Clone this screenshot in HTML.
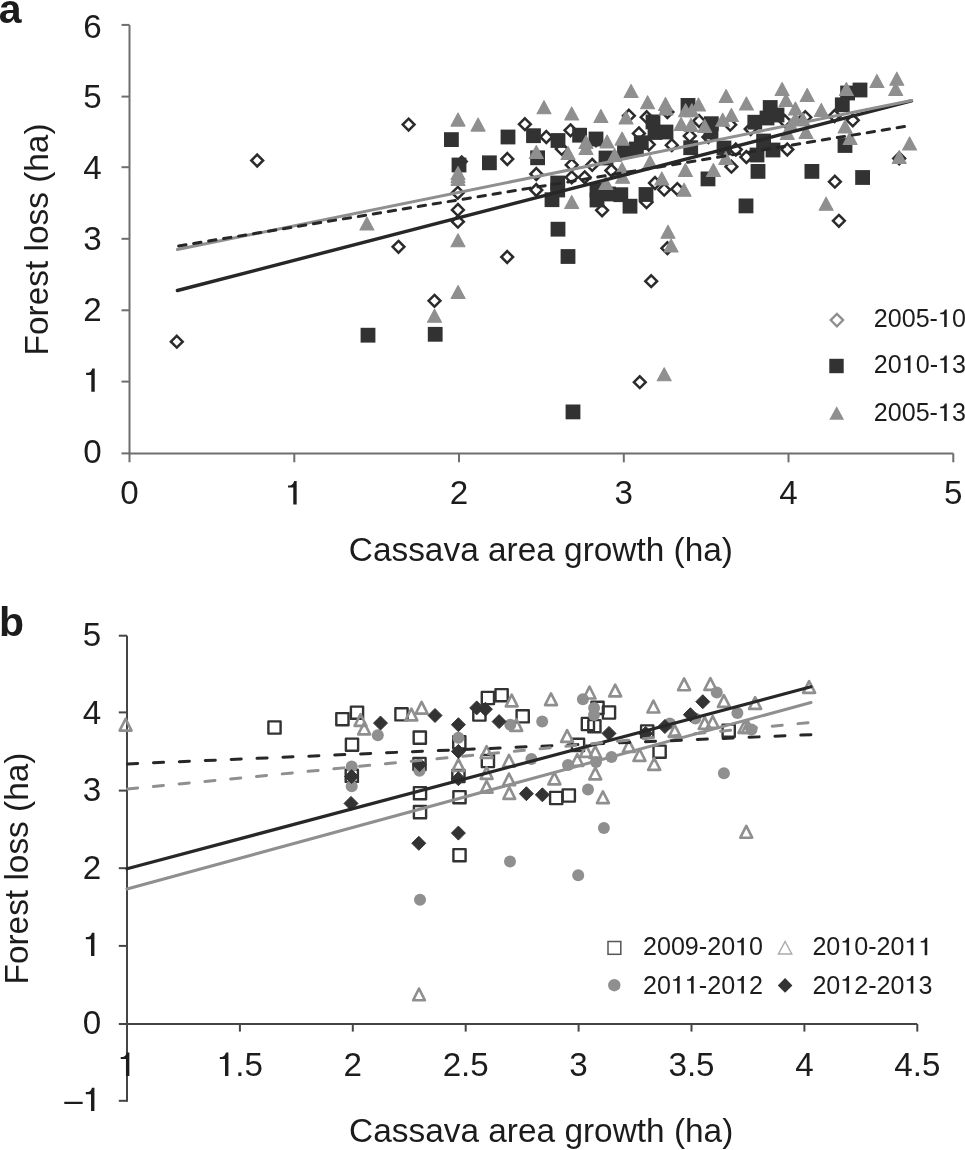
<!DOCTYPE html>
<html><head><meta charset="utf-8"><title>Figure</title>
<style>
html,body{margin:0;padding:0;background:#fff;}
body{width:965px;height:1150px;overflow:hidden;}
svg{display:block;filter:grayscale(1);}
text{font-family:"Liberation Sans", sans-serif;fill:#1e1c1d;}
.h1{fill-opacity:0;}
text{font-kerning:none;font-feature-settings:"kern" 0;}
</style></head><body>
<svg width="965" height="1150" viewBox="0 0 965 1150">
<rect width="965" height="1150" fill="#fff"/>
<text x="-1.3" y="22.8" font-size="41" font-weight="bold">a</text>
<g stroke="#6d6e72" stroke-width="2" fill="none"><path d="M129.5 24.9V453.4 H953.3"/><path d="M121.5 453.4H129.5"/><path d="M121.5 381.6H129.5"/><path d="M121.5 310.3H129.5"/><path d="M121.5 238.8H129.5"/><path d="M121.5 167.2H129.5"/><path d="M121.5 96.6H129.5"/><path d="M121.5 24.9H129.5"/><path d="M129.5 453.4V462.3"/><path d="M294.3 453.4V462.3"/><path d="M459 453.4V462.3"/><path d="M623.8 453.4V462.3"/><path d="M788.5 453.4V462.3"/><path d="M953.3 453.4V462.3"/></g>
<g font-size="33.2" text-anchor="end"><text x="101.6" y="462.6">0</text><text id="o1" x="101.6" y="391.8"><tspan class="h1">1</tspan></text><text x="101.6" y="320.9">2</text><text x="101.6" y="250.1">3</text><text x="101.6" y="179.3">4</text><text x="101.6" y="108.4">5</text><text x="101.6" y="37.6">6</text></g>
<g font-size="33.2" text-anchor="middle"><text x="129.5" y="504.4">0</text><text id="o2" x="294.3" y="504.4"><tspan class="h1">1</tspan></text><text x="459" y="504.4">2</text><text x="623.8" y="504.4">3</text><text x="788.5" y="504.4">4</text><text x="953.3" y="504.4">5</text></g>
<text x="348.8" y="561.3" font-size="33.4">Cassava area growth (ha)</text>
<text transform="translate(48 355.4) rotate(-90)" font-size="33.4">Forest loss (ha)</text>
<g fill="none" stroke="#2b2b2b" stroke-width="2.5"><path d="M176.8 335.8L182.7 341.7L176.8 347.6L170.9 341.7Z"/><path d="M257.2 154.6L263.1 160.5L257.2 166.4L251.3 160.5Z"/><path d="M398.5 240.9L404.4 246.8L398.5 252.7L392.6 246.8Z"/><path d="M408.6 118.7L414.5 124.6L408.6 130.5L402.7 124.6Z"/><path d="M434.5 294.9L440.4 300.8L434.5 306.7L428.6 300.8Z"/><path d="M457.8 186.9L463.7 192.8L457.8 198.7L451.9 192.8Z"/><path d="M457.9 204L463.8 209.9L457.9 215.8L452 209.9Z"/><path d="M457.9 215.8L463.8 221.7L457.9 227.6L452 221.7Z"/><path d="M507.3 153.1L513.2 159L507.3 164.9L501.4 159Z"/><path d="M507.2 251.1L513.1 257L507.2 262.9L501.3 257Z"/><path d="M524.9 118.3L530.8 124.2L524.9 130.1L519 124.2Z"/><path d="M546.3 131.1L552.2 137L546.3 142.9L540.4 137Z"/><path d="M536.3 168.1L542.2 174L536.3 179.9L530.4 174Z"/><path d="M536.3 184.1L542.2 190L536.3 195.9L530.4 190Z"/><path d="M570.5 124.4L576.4 130.3L570.5 136.2L564.6 130.3Z"/><path d="M561.8 143L567.7 148.9L561.8 154.8L555.9 148.9Z"/><path d="M571.7 159L577.6 164.9L571.7 170.8L565.8 164.9Z"/><path d="M592.2 159L598.1 164.9L592.2 170.8L586.3 164.9Z"/><path d="M571.7 171.4L577.6 177.3L571.7 183.2L565.8 177.3Z"/><path d="M584.7 171.4L590.6 177.3L584.7 183.2L578.8 177.3Z"/><path d="M611.4 164.6L617.3 170.5L611.4 176.4L605.5 170.5Z"/><path d="M602.1 204.4L608 210.3L602.1 216.2L596.2 210.3Z"/><path d="M628.9 109.8L634.8 115.7L628.9 121.6L623 115.7Z"/><path d="M646.7 111.3L652.6 117.2L646.7 123.1L640.8 117.2Z"/><path d="M638.9 127.5L644.8 133.4L638.9 139.3L633 133.4Z"/><path d="M648.8 138.7L654.7 144.6L648.8 150.5L642.9 144.6Z"/><path d="M646.5 196.3L652.4 202.2L646.5 208.1L640.6 202.2Z"/><path d="M655 177.1L660.9 183L655 188.9L649.1 183Z"/><path d="M664.2 183.8L670.1 189.7L664.2 195.6L658.3 189.7Z"/><path d="M677.3 183.2L683.2 189.1L677.3 195L671.4 189.1Z"/><path d="M667.4 242.3L673.3 248.2L667.4 254.1L661.5 248.2Z"/><path d="M651.2 275.3L657.1 281.2L651.2 287.1L645.3 281.2Z"/><path d="M639.8 376.3L645.7 382.2L639.8 388.1L633.9 382.2Z"/><path d="M667.4 106.1L673.3 112L667.4 117.9L661.5 112Z"/><path d="M699.1 115.1L705 121L699.1 126.9L693.2 121Z"/><path d="M730.2 118.8L736.1 124.7L730.2 130.6L724.3 124.7Z"/><path d="M750.7 123.1L756.6 129L750.7 134.9L744.8 129Z"/><path d="M689.8 130L695.7 135.9L689.8 141.8L683.9 135.9Z"/><path d="M671.8 139.3L677.7 145.2L671.8 151.1L665.9 145.2Z"/><path d="M708.4 131.2L714.3 137.1L708.4 143L702.5 137.1Z"/><path d="M735.8 143.6L741.7 149.5L735.8 155.4L729.9 149.5Z"/><path d="M746.4 151.1L752.3 157L746.4 162.9L740.5 157Z"/><path d="M731.4 160.8L737.3 166.7L731.4 172.6L725.5 166.7Z"/><path d="M805.3 111.3L811.2 117.2L805.3 123.1L799.4 117.2Z"/><path d="M784.8 115.1L790.7 121L784.8 126.9L778.9 121Z"/><path d="M834.6 110.1L840.5 116L834.6 121.9L828.7 116Z"/><path d="M852.8 114.4L858.7 120.3L852.8 126.2L846.9 120.3Z"/><path d="M787.3 143.6L793.2 149.5L787.3 155.4L781.4 149.5Z"/><path d="M834.9 175.8L840.8 181.7L834.9 187.6L829 181.7Z"/><path d="M838.9 214.9L844.8 220.8L838.9 226.7L833 220.8Z"/><path d="M899.2 152.5L905.1 158.4L899.2 164.3L893.3 158.4Z"/></g>
<path d="M461.7 154.7L468.5 161.5L461.7 168.3L454.9 161.5Z M596 133.5L603.2 140.7L596 147.9L588.8 140.7Z" fill="#333133"/><g fill="#333133"><rect x="360.6" y="327.8" width="14.8" height="14.8"/><rect x="427.8" y="326.9" width="14.8" height="14.8"/><rect x="444" y="132.2" width="14.8" height="14.8"/><rect x="451.6" y="157.6" width="14.8" height="14.8"/><rect x="482" y="155.4" width="14.8" height="14.8"/><rect x="500.6" y="129.6" width="14.8" height="14.8"/><rect x="526.1" y="128.3" width="14.8" height="14.8"/><rect x="530.2" y="150.4" width="14.8" height="14.8"/><rect x="550.6" y="133.1" width="14.8" height="14.8"/><rect x="572.2" y="127.8" width="14.8" height="14.8"/><rect x="588.6" y="131.6" width="14.8" height="14.8"/><rect x="633.9" y="135.3" width="14.8" height="14.8"/><rect x="617.1" y="144" width="14.8" height="14.8"/><rect x="629" y="141.6" width="14.8" height="14.8"/><rect x="598.6" y="150.6" width="14.8" height="14.8"/><rect x="550.6" y="221.8" width="14.8" height="14.8"/><rect x="560.6" y="249.1" width="14.8" height="14.8"/><rect x="544.6" y="192.3" width="14.8" height="14.8"/><rect x="550.3" y="175.6" width="14.8" height="14.8"/><rect x="550.3" y="182.6" width="14.8" height="14.8"/><rect x="589.6" y="182.6" width="14.8" height="14.8"/><rect x="589.6" y="192.6" width="14.8" height="14.8"/><rect x="613.4" y="187.3" width="14.8" height="14.8"/><rect x="622.6" y="198.8" width="14.8" height="14.8"/><rect x="638.6" y="187.1" width="14.8" height="14.8"/><rect x="645.6" y="114.5" width="14.8" height="14.8"/><rect x="658.6" y="124.6" width="14.8" height="14.8"/><rect x="680.6" y="98" width="14.8" height="14.8"/><rect x="703.9" y="116.3" width="14.8" height="14.8"/><rect x="703.6" y="124.6" width="14.8" height="14.8"/><rect x="747.4" y="114.8" width="14.8" height="14.8"/><rect x="762.8" y="100.1" width="14.8" height="14.8"/><rect x="769.6" y="107.6" width="14.8" height="14.8"/><rect x="683.3" y="140.3" width="14.8" height="14.8"/><rect x="716.6" y="140.6" width="14.8" height="14.8"/><rect x="756.2" y="133.6" width="14.8" height="14.8"/><rect x="765.6" y="142.6" width="14.8" height="14.8"/><rect x="749.6" y="147.6" width="14.8" height="14.8"/><rect x="750.6" y="164" width="14.8" height="14.8"/><rect x="852.6" y="82.6" width="14.8" height="14.8"/><rect x="840.2" y="85.6" width="14.8" height="14.8"/><rect x="834.9" y="97.4" width="14.8" height="14.8"/><rect x="837.6" y="138.1" width="14.8" height="14.8"/><rect x="855.2" y="170.1" width="14.8" height="14.8"/><rect x="804.5" y="164" width="14.8" height="14.8"/><rect x="700.6" y="171.5" width="14.8" height="14.8"/><rect x="738.6" y="198.5" width="14.8" height="14.8"/><rect x="565.6" y="404.5" width="14.8" height="14.8"/><rect x="647.6" y="125.1" width="14.8" height="14.8"/><rect x="759.6" y="110.6" width="14.8" height="14.8"/><rect x="601.1" y="186.6" width="14.8" height="14.8"/></g>
<g fill="#8e8f93" stroke="#8e8f93" stroke-width="1.1" stroke-linejoin="round"><path d="M366.9 217L373.9 230L359.9 230Z"/><path d="M434.5 309.3L441.5 322.3L427.5 322.3Z"/><path d="M458.1 285.5L465.1 298.5L451.1 298.5Z"/><path d="M458 233.8L465 246.8L451 246.8Z"/><path d="M458 113.1L465 126.1L451 126.1Z"/><path d="M478.1 118.1L485.1 131.1L471.1 131.1Z"/><path d="M458 166.5L465 179.5L451 179.5Z"/><path d="M458 169.5L465 182.5L451 182.5Z"/><path d="M458 172.5L465 185.5L451 185.5Z"/><path d="M536.3 145.5L543.3 158.5L529.3 158.5Z"/><path d="M544 100.7L551 113.7L537 113.7Z"/><path d="M571.7 107L578.7 120L564.7 120Z"/><path d="M600.9 109.5L607.9 122.5L593.9 122.5Z"/><path d="M626 111L633 124L619 124Z"/><path d="M631.1 84.5L638.1 97.5L624.1 97.5Z"/><path d="M647.6 95.8L654.6 108.8L640.6 108.8Z"/><path d="M665.5 97.5L672.5 110.5L658.5 110.5Z"/><path d="M666 102L673 115L659 115Z"/><path d="M586 135.5L593 148.5L579 148.5Z"/><path d="M586 141.5L593 154.5L579 154.5Z"/><path d="M607.1 135L614.1 148L600.1 148Z"/><path d="M622.1 132.1L629.1 145.1L615.1 145.1Z"/><path d="M614.6 148.5L621.6 161.5L607.6 161.5Z"/><path d="M568 146.5L575 159.5L561 159.5Z"/><path d="M622 162.5L629 175.5L615 175.5Z"/><path d="M605.9 176.5L612.9 189.5L598.9 189.5Z"/><path d="M622.6 170.2L629.6 183.2L615.6 183.2Z"/><path d="M571.7 195.5L578.7 208.5L564.7 208.5Z"/><path d="M650 155.5L657 168.5L643 168.5Z"/><path d="M685.4 163.5L692.4 176.5L678.4 176.5Z"/><path d="M725.8 151.5L732.8 164.5L718.8 164.5Z"/><path d="M713.4 163.5L720.4 176.5L706.4 176.5Z"/><path d="M661.8 172L668.8 185L654.8 185Z"/><path d="M684.1 183.2L691.1 196.2L677.1 196.2Z"/><path d="M668 225.2L675 238.2L661 238.2Z"/><path d="M671.1 238.9L678.1 251.9L664.1 251.9Z"/><path d="M664.2 367.8L671.2 380.8L657.2 380.8Z"/><path d="M726.1 89.5L733.1 102.5L719.1 102.5Z"/><path d="M746.4 97L753.4 110L739.4 110Z"/><path d="M698.5 98L705.5 111L691.5 111Z"/><path d="M685.6 103.8L692.6 116.8L678.6 116.8Z"/><path d="M691.8 103.8L698.8 116.8L684.8 116.8Z"/><path d="M681.1 117.5L688.1 130.5L674.1 130.5Z"/><path d="M691 118.5L698 131.5L684 131.5Z"/><path d="M704.7 119.5L711.7 132.5L697.7 132.5Z"/><path d="M722.7 113.2L729.7 126.2L715.7 126.2Z"/><path d="M731.4 108.5L738.4 121.5L724.4 121.5Z"/><path d="M782.1 82.5L789.1 95.5L775.1 95.5Z"/><path d="M786 93.5L793 106.5L779 106.5Z"/><path d="M807.2 88.5L814.2 101.5L800.2 101.5Z"/><path d="M846.4 82.5L853.4 95.5L839.4 95.5Z"/><path d="M795.4 102L802.4 115L788.4 115Z"/><path d="M795.4 112.5L802.4 125.5L788.4 125.5Z"/><path d="M791 118.5L798 131.5L784 131.5Z"/><path d="M806 125.5L813 138.5L799 138.5Z"/><path d="M787.3 126.5L794.3 139.5L780.3 139.5Z"/><path d="M803 113L810 126L796 126Z"/><path d="M821.3 103.5L828.3 116.5L814.3 116.5Z"/><path d="M845.1 120L852.1 133L838.1 133Z"/><path d="M850.1 131.5L857.1 144.5L843.1 144.5Z"/><path d="M876.9 74.5L883.9 87.5L869.9 87.5Z"/><path d="M896.8 72.2L903.8 85.2L889.8 85.2Z"/><path d="M895.7 82.5L902.7 95.5L888.7 95.5Z"/><path d="M909.6 136.9L916.6 149.9L902.6 149.9Z"/><path d="M899.2 150.5L906.2 163.5L892.2 163.5Z"/><path d="M826.1 197.2L833.1 210.2L819.1 210.2Z"/></g>
<g fill="none" stroke-width="3" stroke-linecap="round"><path d="M177.4 290.5L911.5 100.9" stroke="#272727" stroke-width="3.4"/><path d="M177.4 249.5L911.5 100.5" stroke="#8e8f93"/><path d="M178.68 245.96L904.42 126.54" stroke="#272727" stroke-width="3" stroke-linecap="round" stroke-dasharray="7.400 7.769"/></g>
<path d="M836.9 313.9L843.1 320.1L836.9 326.3L830.7 320.1Z" fill="none" stroke="#8e8f93" stroke-width="2.3"/><rect x="829.3" y="358.8" width="14.4" height="14.4" fill="#333133"/><path d="M836.7 406.2L844.1 419.8L829.3 419.8Z" fill="#8e8f93"/><g font-size="25.1"><text id="o3" x="873.8" y="327">2005-<tspan class="h1">1</tspan>0</text><text id="o4" x="873.8" y="373">20<tspan class="h1">1</tspan>0-<tspan class="h1">1</tspan>3</text><text id="o5" x="873.8" y="421">2005-<tspan class="h1">1</tspan>3</text></g>
<text x="-1.1" y="635.9" font-size="41" font-weight="bold">b</text>
<g stroke="#454547" stroke-width="2" fill="none"><path d="M127 635.7V1101.7"/><path d="M127 1024H917.2"/><path d="M118.8 1100.8H127"/><path d="M118.8 1024H127"/><path d="M118.8 945.9H127"/><path d="M118.8 868.2H127"/><path d="M118.8 790.6H127"/><path d="M118.8 712.4H127"/><path d="M118.8 635.7H127"/><path d="M127 1024V1031.6"/><path d="M239.9 1024V1031.6"/><path d="M352.8 1024V1031.6"/><path d="M465.7 1024V1031.6"/><path d="M578.6 1024V1031.6"/><path d="M691.5 1024V1031.6"/><path d="M804.4 1024V1031.6"/><path d="M917.3 1024V1031.6"/></g>
<g font-size="33.2" text-anchor="end"><text id="o6" x="101.3" y="1111.1">–<tspan class="h1">1</tspan></text><text x="101.3" y="1033.6">0</text><text id="o7" x="101.3" y="956.1"><tspan class="h1">1</tspan></text><text x="101.3" y="878.6">2</text><text x="101.3" y="801.2">3</text><text x="101.3" y="723.7">4</text><text x="101.3" y="646.2">5</text></g>
<g font-size="33.2" text-anchor="middle"><text id="o8" x="127" y="1075.9"><tspan class="h1">1</tspan></text><text id="o9" x="239.9" y="1075.9"><tspan class="h1">1</tspan>.5</text><text x="352.8" y="1075.9">2</text><text x="465.7" y="1075.9">2.5</text><text x="578.6" y="1075.9">3</text><text x="691.5" y="1075.9">3.5</text><text x="804.4" y="1075.9">4</text><text x="917.3" y="1075.9">4.5</text></g>
<text x="349.1" y="1142.3" font-size="33.4">Cassava area growth (ha)</text>
<text transform="translate(27.9 984.5) rotate(-90)" font-size="33.4">Forest loss (ha)</text>
<g fill="none" stroke="#333" stroke-width="2.4" stroke-linejoin="round"><rect x="268.4" y="721.4" width="12.2" height="12.2"/><rect x="336.3" y="713.1" width="12.2" height="12.2"/><rect x="350.9" y="706.6" width="12.2" height="12.2"/><rect x="345.9" y="738.6" width="12.2" height="12.2"/><rect x="395.4" y="708.2" width="12.2" height="12.2"/><rect x="413.7" y="731.5" width="12.2" height="12.2"/><rect x="413.4" y="757.9" width="12.2" height="12.2"/><rect x="345.7" y="769.7" width="12.2" height="12.2"/><rect x="413.9" y="787.1" width="12.2" height="12.2"/><rect x="413.9" y="806" width="12.2" height="12.2"/><rect x="453.4" y="791.1" width="12.2" height="12.2"/><rect x="453.4" y="849.1" width="12.2" height="12.2"/><rect x="481.8" y="691.9" width="12.2" height="12.2"/><rect x="495.5" y="689.1" width="12.2" height="12.2"/><rect x="473.3" y="708.4" width="12.2" height="12.2"/><rect x="516.6" y="710.2" width="12.2" height="12.2"/><rect x="453.2" y="736.2" width="12.2" height="12.2"/><rect x="452.3" y="769.9" width="12.2" height="12.2"/><rect x="481.8" y="754.9" width="12.2" height="12.2"/><rect x="550.1" y="791.9" width="12.2" height="12.2"/><rect x="562.7" y="789.4" width="12.2" height="12.2"/><rect x="591.4" y="701.8" width="12.2" height="12.2"/><rect x="602.9" y="706.4" width="12.2" height="12.2"/><rect x="581.8" y="717.9" width="12.2" height="12.2"/><rect x="588.3" y="720.1" width="12.2" height="12.2"/><rect x="571.9" y="738.8" width="12.2" height="12.2"/><rect x="641.1" y="725.4" width="12.2" height="12.2"/><rect x="653.5" y="745.6" width="12.2" height="12.2"/><rect x="722.6" y="724.6" width="12.2" height="12.2"/></g>
<g fill="none" stroke="#8e8f93" stroke-width="2.6" stroke-linejoin="round"><path d="M125.6 718.8L131.5 730.6L119.6 730.6Z"/><path d="M360.5 714.1L366.4 725.9L354.6 725.9Z"/><path d="M364.2 722.6L370.1 734.4L358.2 734.4Z"/><path d="M411.4 708.6L417.3 720.4L405.4 720.4Z"/><path d="M421.6 701.8L427.6 713.6L415.7 713.6Z"/><path d="M458.4 759.1L464.3 770.9L452.4 770.9Z"/><path d="M486.6 746.1L492.6 757.9L480.7 757.9Z"/><path d="M486.6 767.1L492.6 778.9L480.7 778.9Z"/><path d="M486.6 780.9L492.6 792.7L480.7 792.7Z"/><path d="M509 754.9L515 766.7L503.1 766.7Z"/><path d="M509 773.5L515 785.3L503.1 785.3Z"/><path d="M509.3 787.1L515.2 798.9L503.4 798.9Z"/><path d="M511.7 694.6L517.6 706.4L505.8 706.4Z"/><path d="M516.3 719.1L522.2 730.9L510.3 730.9Z"/><path d="M551 693.3L557 705.1L545 705.1Z"/><path d="M554.4 772.6L560.4 784.4L548.4 784.4Z"/><path d="M567.1 730.1L573.1 741.9L561.1 741.9Z"/><path d="M577.3 754.1L583.2 765.9L571.3 765.9Z"/><path d="M586 745.1L592 756.9L580 756.9Z"/><path d="M589.5 686.7L595.5 698.5L583.5 698.5Z"/><path d="M595.3 746.1L601.2 757.9L589.3 757.9Z"/><path d="M595.3 767.6L601.2 779.4L589.3 779.4Z"/><path d="M602.9 791.3L608.9 803.1L596.9 803.1Z"/><path d="M615.2 684.6L621.2 696.4L609.2 696.4Z"/><path d="M628.9 740.1L634.9 751.9L622.9 751.9Z"/><path d="M639.5 749.1L645.5 760.9L633.5 760.9Z"/><path d="M653.4 700.7L659.4 712.5L647.4 712.5Z"/><path d="M654.2 758.1L660.2 769.9L648.2 769.9Z"/><path d="M684.1 678.4L690.1 690.2L678.1 690.2Z"/><path d="M704.7 717.1L710.7 728.9L698.8 728.9Z"/><path d="M712.7 716.1L718.7 727.9L706.8 727.9Z"/><path d="M674.8 725.1L680.8 736.9L668.8 736.9Z"/><path d="M744.5 721.1L750.5 732.9L738.5 732.9Z"/><path d="M710.4 678.1L716.4 689.9L704.4 689.9Z"/><path d="M723.9 695.1L729.9 706.9L717.9 706.9Z"/><path d="M755.1 697.1L761.1 708.9L749.1 708.9Z"/><path d="M747.9 721.1L753.9 732.9L741.9 732.9Z"/><path d="M809.1 681.1L815.1 692.9L803.1 692.9Z"/><path d="M746.3 825.9L752.2 837.7L740.3 837.7Z"/><path d="M419 988.5L424.9 1000.3L413.1 1000.3Z"/></g>
<g fill="#8e8f93"><circle cx="377.8" cy="735.2" r="6"/><circle cx="351.7" cy="766.5" r="6"/><circle cx="351.7" cy="786.3" r="6"/><circle cx="419.5" cy="770.8" r="6"/><circle cx="420" cy="899.8" r="6"/><circle cx="458.4" cy="737.8" r="6"/><circle cx="510.3" cy="724.7" r="6"/><circle cx="542.2" cy="721.6" r="6"/><circle cx="531.4" cy="758.9" r="6"/><circle cx="582.9" cy="699.2" r="6"/><circle cx="594.1" cy="707.9" r="6"/><circle cx="594" cy="715" r="6"/><circle cx="568" cy="765" r="6"/><circle cx="596" cy="762" r="6"/><circle cx="611.5" cy="757" r="6"/><circle cx="588" cy="789.5" r="6"/><circle cx="603.9" cy="828" r="6"/><circle cx="510" cy="861.6" r="6"/><circle cx="578.2" cy="875.3" r="6"/><circle cx="669.8" cy="723.4" r="6"/><circle cx="695.3" cy="718.4" r="6"/><circle cx="716.8" cy="692.6" r="6"/><circle cx="737.4" cy="713" r="6"/><circle cx="751.5" cy="729.6" r="6"/><circle cx="723.9" cy="773.2" r="6"/></g>
<g fill="#333" stroke="#333" stroke-width="1" stroke-linejoin="round"><path d="M380.5 716.1L387.5 723.1L380.5 730.1L373.5 723.1Z"/><path d="M351.6 769.6L358.6 776.6L351.6 783.6L344.6 776.6Z"/><path d="M351 796.4L358 803.4L351 810.4L344 803.4Z"/><path d="M435 708.5L442 715.5L435 722.5L428 715.5Z"/><path d="M418.8 836.3L425.8 843.3L418.8 850.3L411.8 843.3Z"/><path d="M419.5 757.6L426.5 764.6L419.5 771.6L412.5 764.6Z"/><path d="M458.4 717.7L465.4 724.7L458.4 731.7L451.4 724.7Z"/><path d="M458.4 744.4L465.4 751.4L458.4 758.4L451.4 751.4Z"/><path d="M458.4 771.7L465.4 778.7L458.4 785.7L451.4 778.7Z"/><path d="M458.4 826.1L465.4 833.1L458.4 840.1L451.4 833.1Z"/><path d="M476.7 700.9L483.7 707.9L476.7 714.9L469.7 707.9Z"/><path d="M485.4 702.2L492.4 709.2L485.4 716.2L478.4 709.2Z"/><path d="M499.1 714.6L506.1 721.6L499.1 728.6L492.1 721.6Z"/><path d="M526.4 786.7L533.4 793.7L526.4 800.7L519.4 793.7Z"/><path d="M542.4 787.8L549.4 794.8L542.4 801.8L535.4 794.8Z"/><path d="M609 726.4L616 733.4L609 740.4L602 733.4Z"/><path d="M645.7 726.4L652.7 733.4L645.7 740.4L638.7 733.4Z"/><path d="M664.9 719.5L671.9 726.5L664.9 733.5L657.9 726.5Z"/><path d="M690.4 707.7L697.4 714.7L690.4 721.7L683.4 714.7Z"/><path d="M702.8 694.7L709.8 701.7L702.8 708.7L695.8 701.7Z"/></g>
<g fill="none" stroke-width="3" stroke-linecap="round"><path d="M127 868.8L811 686.8" stroke="#272727" stroke-width="3.2"/><path d="M127 889L811 702.5" stroke="#8e8f93"/><path d="M127.55 763.88L810.90 734.66" stroke="#272727" stroke-width="3" stroke-linecap="round" stroke-dasharray="10.100 15.818"/><path d="M127.54 788.95L808.01 722.65" stroke="#8e8f93" stroke-width="3" stroke-linecap="round" stroke-dasharray="10.100 15.807"/></g>
<rect x="608" y="941.5" width="12.8" height="12.8" fill="none" stroke="#555" stroke-width="1.5"/><path d="M785.1 941.5L791.8 954L778.4 954Z" fill="none" stroke="#aaa" stroke-width="1.4"/><circle cx="614.3" cy="985.2" r="6.2" fill="#8e8f93"/><path d="M785.1 978.1L792.4 985.4L785.1 992.7L777.8 985.4Z" fill="#333"/><g font-size="25.1"><text id="o10" x="643" y="955.3">2009-20<tspan class="h1">1</tspan>0</text><text id="o11" x="812.4" y="955.3">20<tspan class="h1">1</tspan>0-20<tspan class="h1">1</tspan><tspan class="h1">1</tspan></text><text id="o12" x="643" y="993.6">20<tspan class="h1">1</tspan><tspan class="h1">1</tspan>-20<tspan class="h1">1</tspan>2</text><text id="o13" x="812.4" y="993.6">20<tspan class="h1">1</tspan>2-20<tspan class="h1">1</tspan>3</text></g>
<g fill="#1e1c1d"><path transform="matrix(33.200 0 0 -33.200 83.13 391.80)" d="M0.349 0L0.349 0.702L0.275 0.702C0.262 0.655 0.225 0.577 0.16 0.573L0.09 0.572L0.09 0.509L0.247 0.509L0.247 0Z"/><path transform="matrix(33.200 0 0 -33.200 285.07 504.40)" d="M0.349 0L0.349 0.702L0.275 0.702C0.262 0.655 0.225 0.577 0.16 0.573L0.09 0.572L0.09 0.509L0.247 0.509L0.247 0Z"/><path transform="matrix(25.100 0 0 -25.100 937.99 327.00)" d="M0.349 0L0.349 0.702L0.275 0.702C0.262 0.655 0.225 0.577 0.16 0.573L0.09 0.572L0.09 0.509L0.247 0.509L0.247 0Z"/><path transform="matrix(25.100 0 0 -25.100 901.72 373.00)" d="M0.349 0L0.349 0.702L0.275 0.702C0.262 0.655 0.225 0.577 0.16 0.573L0.09 0.572L0.09 0.509L0.247 0.509L0.247 0Z"/><path transform="matrix(25.100 0 0 -25.100 938.00 373.00)" d="M0.349 0L0.349 0.702L0.275 0.702C0.262 0.655 0.225 0.577 0.16 0.573L0.09 0.572L0.09 0.509L0.247 0.509L0.247 0Z"/><path transform="matrix(25.100 0 0 -25.100 937.99 421.00)" d="M0.349 0L0.349 0.702L0.275 0.702C0.262 0.655 0.225 0.577 0.16 0.573L0.09 0.572L0.09 0.509L0.247 0.509L0.247 0Z"/><path transform="matrix(33.200 0 0 -33.200 82.83 1111.10)" d="M0.349 0L0.349 0.702L0.275 0.702C0.262 0.655 0.225 0.577 0.16 0.573L0.09 0.572L0.09 0.509L0.247 0.509L0.247 0Z"/><path transform="matrix(33.200 0 0 -33.200 82.83 956.10)" d="M0.349 0L0.349 0.702L0.275 0.702C0.262 0.655 0.225 0.577 0.16 0.573L0.09 0.572L0.09 0.509L0.247 0.509L0.247 0Z"/><path transform="matrix(33.200 0 0 -33.200 117.77 1075.90)" d="M0.349 0L0.349 0.702L0.275 0.702C0.262 0.655 0.225 0.577 0.16 0.573L0.09 0.572L0.09 0.509L0.247 0.509L0.247 0Z"/><path transform="matrix(33.200 0 0 -33.200 216.82 1075.90)" d="M0.349 0L0.349 0.702L0.275 0.702C0.262 0.655 0.225 0.577 0.16 0.573L0.09 0.572L0.09 0.509L0.247 0.509L0.247 0Z"/><path transform="matrix(25.100 0 0 -25.100 735.09 955.30)" d="M0.349 0L0.349 0.702L0.275 0.702C0.262 0.655 0.225 0.577 0.16 0.573L0.09 0.572L0.09 0.509L0.247 0.509L0.247 0Z"/><path transform="matrix(25.100 0 0 -25.100 840.32 955.30)" d="M0.349 0L0.349 0.702L0.275 0.702C0.262 0.655 0.225 0.577 0.16 0.573L0.09 0.572L0.09 0.509L0.247 0.509L0.247 0Z"/><path transform="matrix(25.100 0 0 -25.100 904.53 955.30)" d="M0.349 0L0.349 0.702L0.275 0.702C0.262 0.655 0.225 0.577 0.16 0.573L0.09 0.572L0.09 0.509L0.247 0.509L0.247 0Z"/><path transform="matrix(25.100 0 0 -25.100 918.49 955.30)" d="M0.349 0L0.349 0.702L0.275 0.702C0.262 0.655 0.225 0.577 0.16 0.573L0.09 0.572L0.09 0.509L0.247 0.509L0.247 0Z"/><path transform="matrix(25.100 0 0 -25.100 670.92 993.60)" d="M0.349 0L0.349 0.702L0.275 0.702C0.262 0.655 0.225 0.577 0.16 0.573L0.09 0.572L0.09 0.509L0.247 0.509L0.247 0Z"/><path transform="matrix(25.100 0 0 -25.100 684.89 993.60)" d="M0.349 0L0.349 0.702L0.275 0.702C0.262 0.655 0.225 0.577 0.16 0.573L0.09 0.572L0.09 0.509L0.247 0.509L0.247 0Z"/><path transform="matrix(25.100 0 0 -25.100 735.14 993.60)" d="M0.349 0L0.349 0.702L0.275 0.702C0.262 0.655 0.225 0.577 0.16 0.573L0.09 0.572L0.09 0.509L0.247 0.509L0.247 0Z"/><path transform="matrix(25.100 0 0 -25.100 840.32 993.60)" d="M0.349 0L0.349 0.702L0.275 0.702C0.262 0.655 0.225 0.577 0.16 0.573L0.09 0.572L0.09 0.509L0.247 0.509L0.247 0Z"/><path transform="matrix(25.100 0 0 -25.100 904.53 993.60)" d="M0.349 0L0.349 0.702L0.275 0.702C0.262 0.655 0.225 0.577 0.16 0.573L0.09 0.572L0.09 0.509L0.247 0.509L0.247 0Z"/></g>
